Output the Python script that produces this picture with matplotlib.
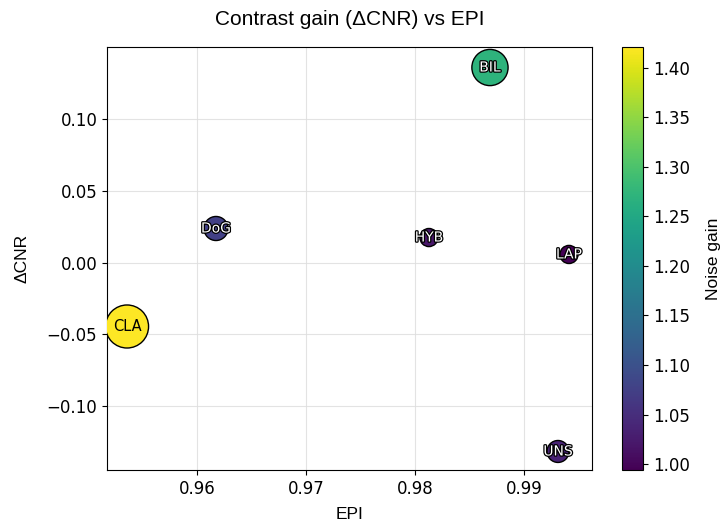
import matplotlib
matplotlib.use("Agg")
import matplotlib.pyplot as plt
import matplotlib.patheffects as pe
import numpy as np

plt.rcParams["font.family"] = ["DejaVu Sans"]

methods = ["CLA", "BIL", "DoG", "HYB", "LAP", "UNS"]
epi = [0.95358, 0.98688, 0.96174, 0.98128, 0.99413, 0.99312]
dcnr = [-0.0446, 0.1359, 0.0237, 0.0174, 0.0056, -0.1317]
noise_gain = [1.421, 1.27, 1.075, 1.02, 0.994, 1.035]
marker_size = [960, 680, 300, 170, 170, 250]

fig = plt.figure(figsize=(7.2, 5.25), dpi=100)
ax = fig.add_axes([0.1486, 0.1048, 0.6736, 0.8057])
cax = fig.add_axes([0.8639, 0.1048, 0.0292, 0.8057])

sc = ax.scatter(epi, dcnr, c=noise_gain, s=marker_size, cmap="viridis",
                edgecolors="black", linewidths=1.0, zorder=3)
norm = sc.norm
for m, x, y, g in zip(methods, epi, dcnr, noise_gain):
    bright = norm(g) > 0.8
    if bright:
        ax.text(x, y, m, ha="center", va="center", fontsize=10.5,
                color="black", zorder=4)
    else:
        ax.text(x, y, m, ha="center", va="center", fontsize=10,
                color="white", zorder=4,
                path_effects=[pe.withStroke(linewidth=1.8, foreground="black")])

ax.set_xlim(0.95174, 0.99624)
ax.set_ylim(-0.1446, 0.1502)
ax.set_xticks([0.96, 0.97, 0.98, 0.99])
ax.set_yticks([-0.10, -0.05, 0.00, 0.05, 0.10])
ax.set_xticklabels(["0.96", "0.97", "0.98", "0.99"])
ax.set_yticklabels(["\u22120.10", "\u22120.05", "0.00", "0.05", "0.10"])
ax.tick_params(labelsize=12)
ax.grid(True, color="#dddddd", linewidth=0.8, alpha=0.8, zorder=0)
ax.set_axisbelow(True)
lab = dict(family="Liberation Sans", fontsize=12.5)
ax.set_xlabel("EPI", labelpad=7, **lab)
ax.set_ylabel("\u0394CNR", labelpad=12, **lab)
ax.set_title("Contrast gain (\u0394CNR) vs EPI", family="Liberation Sans", fontsize=15, pad=16)

cb = fig.colorbar(sc, cax=cax)
cb.set_ticks([1.00, 1.05, 1.10, 1.15, 1.20, 1.25, 1.30, 1.35, 1.40])
cb.ax.tick_params(labelsize=12)
cb.set_label("Noise gain", labelpad=12, **lab)

fig.savefig("out.png", dpi=100)
